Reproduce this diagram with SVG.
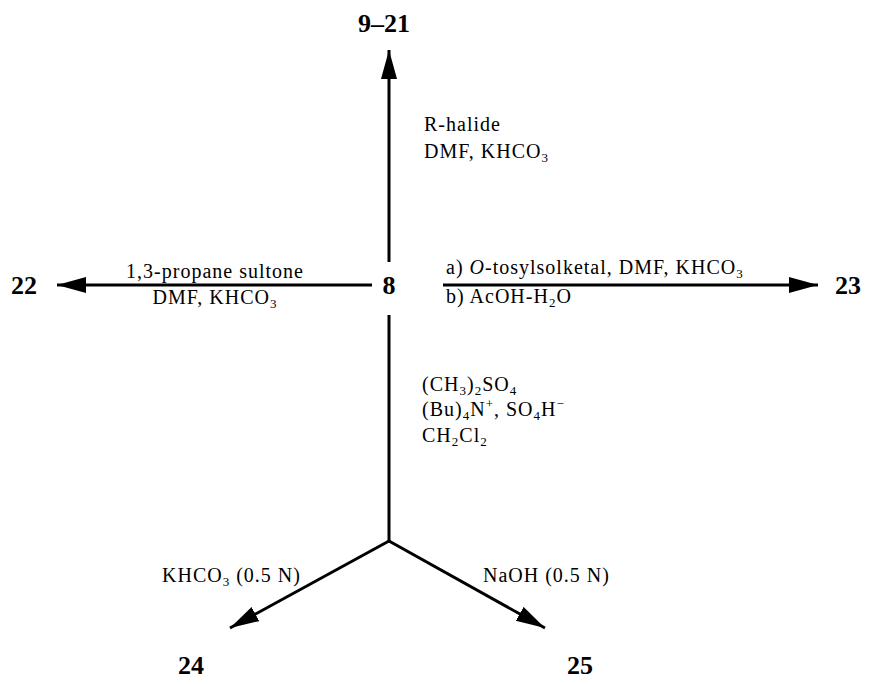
<svg xmlns="http://www.w3.org/2000/svg" width="892" height="684" viewBox="0 0 892 684">
<style>
.t{font-family:"Liberation Serif","Times New Roman",serif;font-size:20px;letter-spacing:1px;fill:#000}
.b{font-family:"Liberation Serif","Times New Roman",serif;font-size:26px;font-weight:bold;fill:#000}
.s{font-size:13px}
.ln{stroke:#000;stroke-width:3;fill:none}
</style>
<defs>
<marker id="ah" markerUnits="userSpaceOnUse" markerWidth="32" markerHeight="18" refX="29" refY="8" orient="auto">
<path d="M0,0 L29,8 L0,16 z" fill="#000"/>
</marker>
</defs>
<rect width="892" height="684" fill="#fff"/>
<g id="connectors">
<line class="ln" x1="389" y1="262" x2="389" y2="50" marker-end="url(#ah)"/>
<line class="ln" x1="372" y1="285" x2="57" y2="285" marker-end="url(#ah)"/>
<line class="ln" x1="443" y1="285" x2="818" y2="285" marker-end="url(#ah)"/>
<polyline class="ln" points="389,315 389,541"/>
<line class="ln" x1="389" y1="541" x2="230" y2="628" marker-end="url(#ah)"/>
<line class="ln" x1="389" y1="541" x2="545" y2="628" marker-end="url(#ah)"/>
</g>
<g id="n8"><text class="b" x="389" y="294" text-anchor="middle">8</text></g>
<g id="n9-21"><text class="b" x="384" y="32" text-anchor="middle">9–21</text></g>
<g id="n22"><text class="b" x="11" y="294">22</text></g>
<g id="n23"><text class="b" x="835" y="294">23</text></g>
<g id="n24"><text class="b" x="178" y="674">24</text></g>
<g id="n25"><text class="b" x="567" y="674">25</text></g>
<g id="labels">
<text class="t" x="424" y="131">R-halide</text>
<text class="t" x="424" y="158">DMF, KHCO<tspan class="s" dy="4">3</tspan></text>
<text class="t" x="215" y="278" text-anchor="middle">1,3-propane sultone</text>
<text class="t" x="215" y="304" text-anchor="middle">DMF, KHCO<tspan class="s" dy="4">3</tspan></text>
<text class="t" x="446" y="274">a) <tspan font-style="italic">O</tspan>-tosylsolketal, DMF, KHCO<tspan class="s" dy="4">3</tspan></text>
<text class="t" x="446" y="303">b) AcOH-H<tspan class="s" dy="4">2</tspan><tspan dy="-4">O</tspan></text>
<text class="t" x="422" y="391">(CH<tspan class="s" dy="4">3</tspan><tspan dy="-4">)</tspan><tspan class="s" dy="4">2</tspan><tspan dy="-4">SO</tspan><tspan class="s" dy="4">4</tspan></text>
<text class="t" x="422" y="416">(Bu)<tspan class="s" dy="4">4</tspan><tspan dy="-4">N</tspan><tspan class="s" dy="-8">+</tspan><tspan dy="8">, SO</tspan><tspan class="s" dy="4">4</tspan><tspan dy="-4">H</tspan><tspan class="s" dy="-8">−</tspan></text>
<text class="t" x="422" y="442">CH<tspan class="s" dy="4">2</tspan><tspan dy="-4">Cl</tspan><tspan class="s" dy="4">2</tspan></text>
<text class="t" x="162" y="582">KHCO<tspan class="s" dy="4">3</tspan><tspan dy="-4"> (0.5 N)</tspan></text>
<text class="t" x="483" y="582">NaOH (0.5 N)</text>
</g>
</svg>
